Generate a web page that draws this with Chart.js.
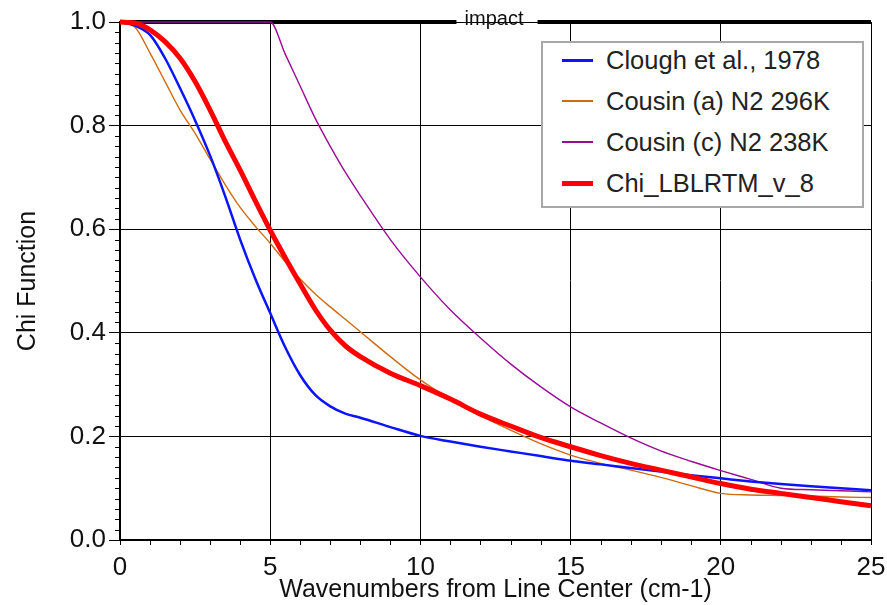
<!DOCTYPE html>
<html>
<head>
<meta charset="utf-8">
<script src="https://cdn.jsdelivr.net/npm/chart.js@4"></script>
<style>
  html, body { margin: 0; padding: 0; background: #fff; }
  #wrap { position: relative; width: 887px; height: 605px; }
  #legend {
    position: absolute; left: 541px; top: 41px; width: 319px; height: 163px;
    border: 2px solid #a8a8a8; background: #fff;
    font-family: "Liberation Sans", Arial, sans-serif; font-size: 25.5px; color: #222;
  }
  .row { position: absolute; left: 0; height: 30px; display: flex; align-items: center; white-space: nowrap; }
  .swatch { width: 31px; margin-left: 19px; margin-right: 13px; }
</style>
</head>
<body>
<div id="wrap">
  <canvas id="chiChart" width="887" height="605"></canvas>
  <div id="legend"></div>
</div>
<script>
// wavenumber grid (cm-1) the curves were read on
const wavenumbers = [0, 0.5, 1, 1.5, 2, 2.5, 3, 3.5, 4, 4.5, 5, 5.5, 6, 6.5, 7, 7.5, 8,
    9, 10, 11, 12, 13, 14, 15, 16, 17, 18, 19, 20, 21, 22, 23, 24, 25];

const clough1978 = [1.0, 0.993, 0.975, 0.93, 0.872, 0.81, 0.742, 0.664, 0.58, 0.505, 0.438, 0.372, 0.318, 0.28, 0.258, 0.244, 0.236,
    0.218, 0.201, 0.19, 0.18, 0.171, 0.162, 0.153, 0.146, 0.139, 0.132, 0.125, 0.119, 0.113, 0.108, 0.104, 0.1, 0.096];

const cousinA296 = [1.0, 0.99, 0.94, 0.885, 0.83, 0.785, 0.735, 0.686, 0.642, 0.606, 0.573, 0.537, 0.504, 0.475, 0.45, 0.426, 0.402,
    0.354, 0.309, 0.272, 0.24, 0.212, 0.186, 0.164, 0.148, 0.135, 0.121, 0.105, 0.09, 0.087, 0.086, 0.085, 0.083, 0.082];

const cousinC238 = [1.0, 1.0, 1.0, 1.0, 1.0, 1.0, 1.0, 1.0, 1.0, 1.0, 1.0, 0.938, 0.876, 0.814, 0.76, 0.71, 0.665,
    0.58, 0.508, 0.444, 0.39, 0.34, 0.296, 0.257, 0.226, 0.197, 0.172, 0.152, 0.134, 0.117, 0.1, 0.097, 0.095, 0.093];

const lblrtmV8 = [1.0, 0.998, 0.985, 0.962, 0.93, 0.885, 0.83, 0.77, 0.714, 0.655, 0.598, 0.545, 0.494, 0.445, 0.405, 0.375, 0.354,
    0.322, 0.298, 0.272, 0.243, 0.22, 0.198, 0.18, 0.163, 0.148, 0.135, 0.122, 0.109, 0.098, 0.09, 0.082, 0.074, 0.066];

const seriesNames = ['Clough et al., 1978', 'Cousin (a) N2 296K', 'Cousin (c) N2 238K', 'Chi_LBLRTM_v_8'];

// the "impact" marker line at chi = 1, broken where its label sits
const impactLevel = 1.0;
const impactLeftX = [0, 11.2];
const impactRightX = [13.9, 25];
const impactLabelX = 12.45;

const xMajorTicks = [0, 5, 10, 15, 20, 25];
const yMajorTicks = [0, 0.2, 0.4, 0.6, 0.8, 1.0];

const FONT = '"Liberation Sans", Arial, sans-serif';

function toPoints(xs, ys) {
    return xs.map((x, i) => ({ x: x, y: ys[i] }));
}

function flatLine(xs, level) {
    return xs.map(x => ({ x: x, y: level }));
}

// minor ticks + impact label
const extrasPlugin = {
    id: 'extras',
    afterDraw(chart) {
        const ctx = chart.ctx;
        const xs = chart.scales.x;
        const ys = chart.scales.y;
        const area = chart.chartArea;
        ctx.save();
        ctx.strokeStyle = '#000';
        ctx.lineWidth = 1;
        ctx.beginPath();
        for (let v = 1; v < 25; v++) {
            if (v % 5 === 0) continue;
            const px = Math.round(xs.getPixelForValue(v)) + 0.5;
            ctx.moveTo(px, area.bottom);
            ctx.lineTo(px, area.bottom + 5);
        }
        for (let k = 1; k < 50; k++) {
            if (k % 10 === 0) continue;
            const py = Math.round(ys.getPixelForValue(k * 0.02)) + 0.5;
            ctx.moveTo(area.left, py);
            ctx.lineTo(area.left - 5, py);
        }
        ctx.stroke();

        ctx.fillStyle = '#111';
        ctx.font = '20px ' + FONT;
        ctx.textAlign = 'center';
        ctx.textBaseline = 'middle';
        ctx.fillText('impact', xs.getPixelForValue(impactLabelX), ys.getPixelForValue(impactLevel) - 3);
        ctx.restore();
    }
};

const ctx = document.getElementById('chiChart').getContext('2d');

const chiChart = new Chart(ctx, {
    type: 'line',
    data: {
        datasets: [
            {
                label: seriesNames[3],
                data: toPoints(wavenumbers, lblrtmV8),
                borderColor: '#ff0000',
                borderWidth: 5,
                order: 1
            },
            {
                label: seriesNames[0],
                data: toPoints(wavenumbers, clough1978),
                borderColor: '#0a14ff',
                borderWidth: 2.5,
                order: 2
            },
            {
                label: seriesNames[1],
                data: toPoints(wavenumbers, cousinA296),
                borderColor: '#d2690f',
                borderWidth: 1.4,
                order: 3
            },
            {
                label: seriesNames[2],
                data: toPoints(wavenumbers, cousinC238),
                borderColor: '#9a0a96',
                borderWidth: 1.4,
                order: 4
            },
            {
                label: 'impact-left',
                data: flatLine(impactLeftX, impactLevel),
                borderColor: '#000',
                borderWidth: 4,
                order: 5
            },
            {
                label: 'impact-right',
                data: flatLine(impactRightX, impactLevel),
                borderColor: '#000',
                borderWidth: 4,
                order: 5
            }
        ]
    },
    options: {
        responsive: false,
        animation: false,
        events: [],
        clip: false,
        layout: { padding: { top: 22, right: 16, left: 0, bottom: 0 } },
        elements: {
            point: { radius: 0 },
            line: { cubicInterpolationMode: 'monotone', fill: false }
        },
        plugins: {
            legend: { display: false },
            tooltip: { enabled: false }
        },
        scales: {
            x: {
                type: 'linear',
                min: 0,
                max: 25,
                afterFit(scale) {
                    scale.height = 65;
                    scale.paddingLeft = 0;
                    scale.paddingRight = 0;
                },
                afterBuildTicks(scale) { scale.ticks = xMajorTicks.map(v => ({ value: v })); },
                ticks: {
                    color: '#111',
                    font: { family: FONT, size: 26 },
                    padding: 7,
                    maxRotation: 0
                },
                grid: { color: '#000', lineWidth: 1, tickLength: 5, tickColor: '#000' },
                border: { color: '#000', width: 2 },
                title: {
                    display: true,
                    text: 'Wavenumbers from Line Center (cm-1)',
                    color: '#111',
                    font: { family: FONT, size: 25 },
                    padding: { top: 0, bottom: 0 }
                }
            },
            y: {
                min: 0,
                max: 1,
                afterFit(scale) { scale.width = 120; },
                afterBuildTicks(scale) { scale.ticks = yMajorTicks.map(v => ({ value: v })); },
                ticks: {
                    color: '#111',
                    font: { family: FONT, size: 26 },
                    padding: 3,
                    callback: v => Number(v).toFixed(1)
                },
                grid: { color: '#000', lineWidth: 1, tickLength: 11, tickColor: '#000' },
                border: { color: '#000', width: 2 },
                title: {
                    display: true,
                    text: 'Chi Function',
                    color: '#111',
                    font: { family: FONT, size: 25 },
                    padding: { top: 13, bottom: 0 }
                }
            }
        }
    },
    plugins: [extrasPlugin]
});

// legend box inside the plot, same order as the reference
const legendItems = [
    { name: seriesNames[0], color: '#0a14ff', width: 3 },
    { name: seriesNames[1], color: '#d2690f', width: 2 },
    { name: seriesNames[2], color: '#9a0a96', width: 2 },
    { name: seriesNames[3], color: '#ff0000', width: 5 }
];
const legendBox = document.getElementById('legend');
legendItems.forEach((item, i) => {
    const row = document.createElement('div');
    row.className = 'row';
    row.style.top = (2 + i * 41) + 'px';
    const sw = document.createElement('span');
    sw.className = 'swatch';
    sw.style.borderTop = item.width + 'px solid ' + item.color;
    const txt = document.createElement('span');
    txt.textContent = item.name;
    row.appendChild(sw);
    row.appendChild(txt);
    legendBox.appendChild(row);
});
</script>
</body>
</html>
